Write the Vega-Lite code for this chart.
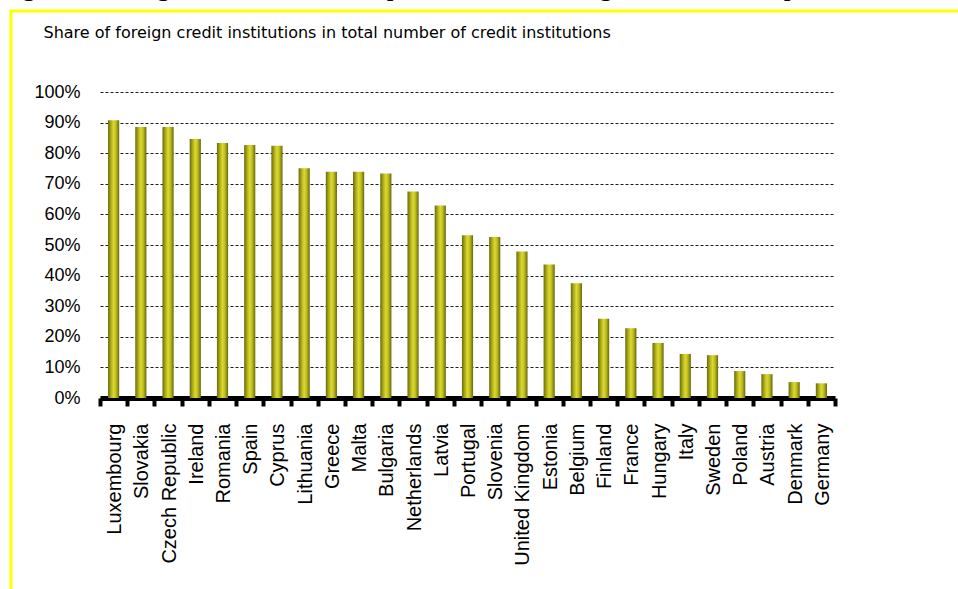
{
  "$schema": "https://vega.github.io/schema/vega-lite/v6.json",
  "autosize": {"type": "none"},
  "padding": {"left": 11, "top": 11, "right": -6, "bottom": -6},
  "width": 953,
  "height": 584,
  "background": "#ffffff",
  "title": {
    "text": "Figure 2.2 Large differences in the penetration of foreign financial companies",
    "anchor": "start",
    "frame": "group",
    "offset": 0,
    "dx": -12,
    "dy": 11,
    "baseline": "alphabetic",
    "font": "Liberation Serif",
    "fontSize": 27.5,
    "fontWeight": "normal",
    "color": "#000000"
  },
  "config": {
    "view": {"stroke": "#ffff00", "strokeWidth": 3},
    "axis": {"labelColor": "#000000", "titleColor": "#000000"}
  },
  "data": {
    "values": [
      {"country": "Luxembourg", "share": 0.908},
      {"country": "Slovakia", "share": 0.886},
      {"country": "Czech Republic", "share": 0.886},
      {"country": "Ireland", "share": 0.846},
      {"country": "Romania", "share": 0.833},
      {"country": "Spain", "share": 0.827},
      {"country": "Cyprus", "share": 0.824},
      {"country": "Lithuania", "share": 0.751},
      {"country": "Greece", "share": 0.739},
      {"country": "Malta", "share": 0.739},
      {"country": "Bulgaria", "share": 0.734},
      {"country": "Netherlands", "share": 0.675},
      {"country": "Latvia", "share": 0.629},
      {"country": "Portugal", "share": 0.532},
      {"country": "Slovenia", "share": 0.526},
      {"country": "United Kingdom", "share": 0.479},
      {"country": "Estonia", "share": 0.436},
      {"country": "Belgium", "share": 0.375},
      {"country": "Finland", "share": 0.259},
      {"country": "France", "share": 0.228},
      {"country": "Hungary", "share": 0.18},
      {"country": "Italy", "share": 0.144},
      {"country": "Sweden", "share": 0.14},
      {"country": "Poland", "share": 0.088},
      {"country": "Austria", "share": 0.078},
      {"country": "Denmark", "share": 0.052},
      {"country": "Germany", "share": 0.048}
    ]
  },
  "mark": {
    "type": "bar",
    "width": {"band": 0.41},
    "color": {
      "gradient": "linear",
      "x1": 0, "y1": 0, "x2": 1, "y2": 0,
      "stops": [
        {"offset": 0, "color": "#6a6a0c"},
        {"offset": 0.3, "color": "#b4b41e"},
        {"offset": 0.5, "color": "#dcda2e"},
        {"offset": 0.72, "color": "#bcbc20"},
        {"offset": 1, "color": "#66660a"}
      ]
    }
  },
  "encoding": {
    "x": {
      "field": "country",
      "type": "nominal",
      "sort": null,
      "scale": {"range": [89, 824], "paddingInner": 0, "paddingOuter": 0},
      "axis": {
        "title": null,
        "offset": -197,
        "orient": "bottom",
        "domainColor": "#000000",
        "domainWidth": 5,
        "ticks": true,
        "tickBand": "extent",
        "tickColor": "#000000",
        "tickWidth": 4,
        "tickSize": 8,
        "labelAngle": -90,
        "labelAlign": "right",
        "labelBaseline": "middle",
        "labelPadding": 17,
        "labelOffset": 1,
        "labelFont": "Liberation Sans",
        "labelFontSize": 20,
        "labelLimit": 300,
        "grid": false
      }
    },
    "y": {
      "field": "share",
      "type": "quantitative",
      "scale": {"domain": [0, 1], "range": [387, 81], "nice": false},
      "axis": {
        "offset": -89,
        "values": [0, 0.1, 0.2, 0.3, 0.4, 0.5, 0.6, 0.7, 0.8, 0.9, 1],
        "format": ".0%",
        "domain": false,
        "ticks": false,
        "tickSize": 0,
        "labelPadding": 20,
        "labelFont": "Liberation Sans",
        "labelFontSize": 18,
        "labelBaseline": "middle",
        "grid": true,
        "gridColor": "#1e1e1e",
        "gridWidth": 1,
        "gridDash": [3, 2],
        "title": "Share of foreign credit institutions in total number of credit institutions",
        "titleAngle": 0,
        "titleAlign": "left",
        "titleBaseline": "alphabetic",
        "titleX": -57,
        "titleY": 26,
        "titleFont": "DejaVu Sans",
        "titleFontSize": 16,
        "titleFontWeight": "normal"
      }
    }
  }
}
